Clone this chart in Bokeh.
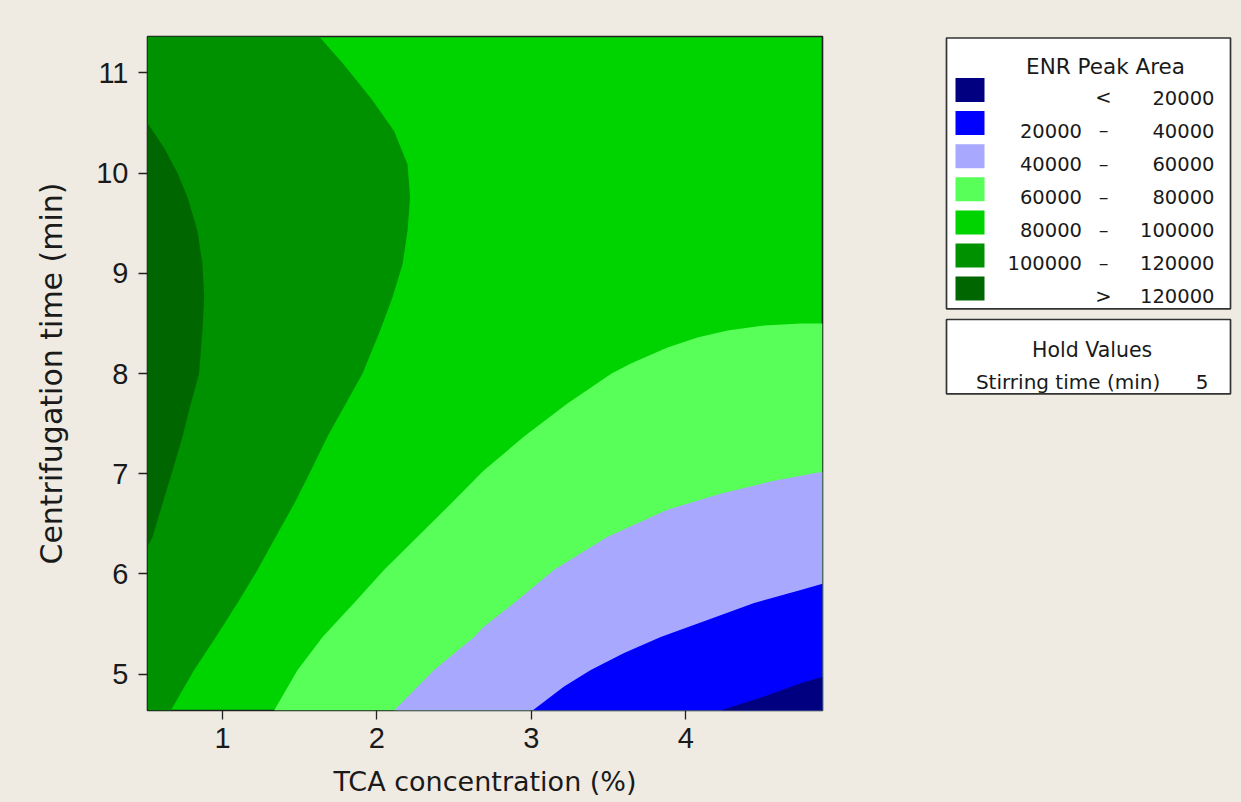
from bokeh.plotting import figure
from bokeh.models import Range1d, FixedTicker
from bokeh.layouts import row
from bokeh.embed import file_html
from bokeh.resources import INLINE
from bokeh.core.properties import value

# ---------------- data ----------------
# axis extent: centre +/- 1.682 design steps
TCA_MIN, TCA_MAX = 0.514, 4.886
CENT_MIN, CENT_MAX = 4.636, 11.364

x_ticks = [1, 2, 3, 4]
y_ticks = [5, 6, 7, 8, 9, 10, 11]

# contour boundaries: TCA concentration (%) vs centrifugation time (min)
c120_x = [0.514, 0.622, 0.709, 0.773, 0.838, 0.870, 0.881, 0.870, 0.848, 0.795, 0.741, 0.676, 0.611, 0.547, 0.514]
c120_y = [10.50, 10.25, 10.00, 9.76, 9.42, 9.09, 8.76, 8.43, 8.00, 7.70, 7.37, 7.03, 6.70, 6.37, 6.27]

c100_x = [1.626, 1.788, 1.960, 2.111, 2.198, 2.215, 2.198, 2.166, 2.101, 2.021, 1.907, 1.799, 1.680,
          1.572, 1.464, 1.345, 1.227, 1.097, 0.957, 0.816, 0.665]
c100_y = [11.364, 11.08, 10.75, 10.42, 10.09, 9.76, 9.42, 9.09, 8.76, 8.43, 8.00, 7.70, 7.37,
          7.03, 6.70, 6.37, 6.04, 5.71, 5.37, 5.04, 4.636]

c80_x = [1.334, 1.486, 1.648, 1.852, 2.047, 2.263, 2.479, 2.690, 2.953, 3.234, 3.520, 3.645, 3.882,
         4.076, 4.271, 4.508, 4.745, 4.886]
c80_y = [4.636, 5.04, 5.37, 5.71, 6.04, 6.37, 6.70, 7.03, 7.37, 7.70, 8.00, 8.10, 8.26,
         8.36, 8.43, 8.48, 8.50, 8.50]

c60_x = [2.111, 2.370, 2.630, 2.690, 2.889, 3.148, 3.494, 3.882, 4.226, 4.572, 4.886]
c60_y = [4.636, 5.04, 5.37, 5.47, 5.71, 6.04, 6.37, 6.64, 6.80, 6.93, 7.02]

c40_x = [3.008, 3.212, 3.385, 3.601, 3.838, 4.141, 4.443, 4.745, 4.886]
c40_y = [4.636, 4.875, 5.04, 5.21, 5.37, 5.54, 5.71, 5.84, 5.90]

c20_x = [4.226, 4.508, 4.745, 4.886]
c20_y = [4.636, 4.775, 4.908, 4.974]

# legend (top to bottom)
band_colors = ["#000080", "#0000FF", "#A8A8FF", "#58FF58", "#00D400", "#009100", "#006600"]
legend_lo = ["", "20000", "40000", "60000", "80000", "100000", ""]
legend_sep = ["<", "\u2013", "\u2013", "\u2013", "\u2013", "\u2013", ">"]
legend_hi = ["20000", "40000", "60000", "80000", "100000", "120000", "120000"]
legend_title = "ENR Peak Area"
hold_title = "Hold Values"
hold_names = ["Stirring time (min)"]
hold_values = ["5"]

x_title = "TCA concentration (%)"
y_title = "Centrifugation time (min)"

BG = "#EFEBE3"
INK = "#1a1a1a"
FONT = "DejaVu Sans"
TICK_FONT = "Liberation Sans"

TOTAL_W, TOTAL_H = 1241, 802
TOP, BOTTOM = 36, 92          # borders shared by both panels (frames are aligned)
MAIN_W = 938

# ---------------- main contour plot ----------------
p = figure(width=MAIN_W, height=TOTAL_H,
           x_range=Range1d(TCA_MIN, TCA_MAX), y_range=Range1d(CENT_MIN, CENT_MAX),
           output_backend="svg", toolbar_location=None,
           min_border_left=147, min_border_right=MAIN_W - 147 - 675,
           min_border_top=TOP, min_border_bottom=BOTTOM)
p.border_fill_color = BG
p.background_fill_color = band_colors[4]          # 80000 - 100000 everywhere else
p.outline_line_color = "#222222"
p.outline_line_width = 1.6
p.grid.visible = False
p.styles = {"background-color": BG}

# regions above a level lie on the left, regions below a level lie at the lower right
xs = [c100_x + [TCA_MIN, TCA_MIN],
      c120_x,
      c80_x + [TCA_MAX],
      c60_x + [TCA_MAX],
      c40_x + [TCA_MAX],
      c20_x + [TCA_MAX]]
ys = [c100_y + [CENT_MIN, CENT_MAX],
      c120_y,
      c80_y + [CENT_MIN],
      c60_y + [CENT_MIN],
      c40_y + [CENT_MIN],
      c20_y + [CENT_MIN]]
fills = [band_colors[5], band_colors[6], band_colors[3], band_colors[2], band_colors[1], band_colors[0]]
p.patches(xs, ys, fill_color=fills, line_color=None)

p.xaxis.ticker = FixedTicker(ticks=x_ticks)
p.yaxis.ticker = FixedTicker(ticks=y_ticks)
for ax in (p.xaxis, p.yaxis):
    ax.axis_line_color = None
    ax.major_tick_out = 9
    ax.major_tick_in = 0
    ax.major_tick_line_color = "#222222"
    ax.major_tick_line_width = 1.3
    ax.minor_tick_line_color = None
    ax.major_label_text_font = TICK_FONT
    ax.major_label_text_font_size = "29px"
    ax.major_label_text_color = INK
    ax.axis_label_text_font = FONT
    ax.axis_label_text_font_style = "normal"
    ax.axis_label_text_color = INK
p.xaxis.axis_label = x_title
p.yaxis.axis_label = y_title
p.xaxis.axis_label_text_font_size = "27px"
p.yaxis.axis_label_text_font_size = "30px"
p.xaxis.major_label_standoff = 8
p.xaxis.axis_label_standoff = 15
p.yaxis.major_label_standoff = 10
p.yaxis.axis_label_standoff = 24

# ---------------- legend panel (page-pixel coordinates) ----------------
LW = TOTAL_W - MAIN_W
q = figure(width=LW, height=TOTAL_H,
           x_range=Range1d(MAIN_W, TOTAL_W), y_range=Range1d(TOTAL_H - BOTTOM, TOP),
           output_backend="svg", toolbar_location=None,
           min_border_left=0, min_border_right=0, min_border_top=TOP, min_border_bottom=BOTTOM)
q.axis.visible = False
q.grid.visible = False
q.background_fill_color = BG
q.border_fill_color = None      # transparent border; the element's own background shows
q.outline_line_color = None
q.styles = {"background-color": BG}

box_l, box_r = 946, 1230
q.quad(left=[box_l, box_l], right=[box_r, box_r], top=[37.5, 319], bottom=[308.3, 393.3],
       fill_color="white", line_color="#333333", line_width=1.7)

row_y = [89.5 + 33.1 * i for i in range(len(band_colors))]
q.rect(x=[969.5] * len(row_y), y=row_y, width=29, height=24, fill_color=band_colors, line_color=None)

txt = dict(text_font=value(FONT), text_color=INK, text_baseline="alphabetic")
base = [yy + 7.8 for yy in row_y]
q.text(x=[1081.5] * len(base), y=base, text=legend_lo, text_align="right", text_font_size="19.5px", **txt)
q.text(x=[1103] * len(base), y=base, text=legend_sep, text_align="center", text_font_size="19.5px", **txt)
q.text(x=[1214] * len(base), y=base, text=legend_hi, text_align="right", text_font_size="19.5px", **txt)
q.text(x=[1105], y=[66], text=[legend_title], text_align="center", text_font_size="21.5px", **txt)

q.text(x=[1091.7], y=[349.3], text=[hold_title], text_align="center", text_font_size="20.5px", **txt)
q.text(x=[975.4], y=[381.5], text=hold_names, text_align="left", text_font_size="20px", **txt)
q.text(x=[1208], y=[381.5], text=hold_values, text_align="right", text_font_size="20px", **txt)

layout = row(p, q)
open("out.html", "w").write(file_html(layout, INLINE))
